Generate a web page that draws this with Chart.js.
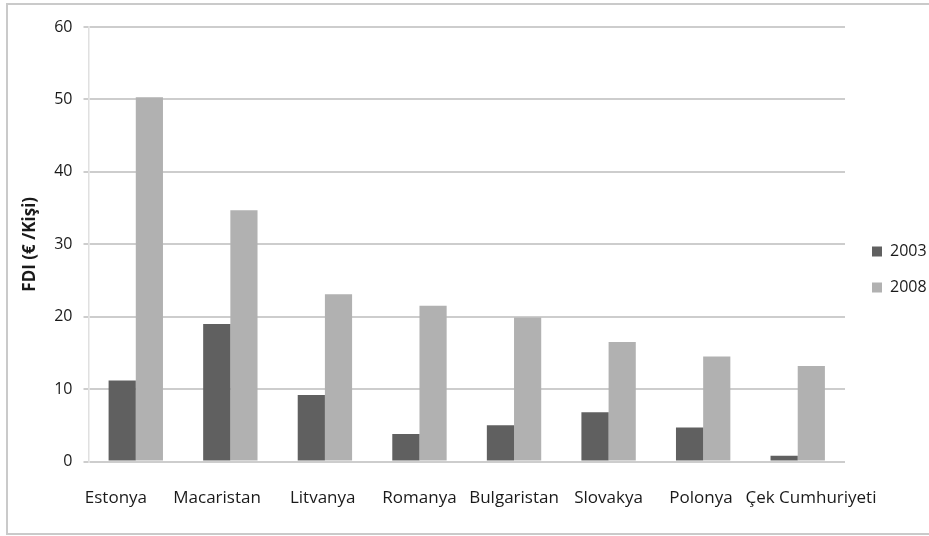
<!DOCTYPE html>
<html>
<head>
<meta charset="utf-8">
<script src="https://cdn.jsdelivr.net/npm/chart.js@4.4.1/dist/chart.umd.min.js"></script>
<style>
  html, body { margin: 0; padding: 0; background: #ffffff; overflow: hidden; }
  #frame { position: absolute; left: 6px; top: 3px; width: 940px; height: 532px; border: 2px solid #cacaca; box-sizing: border-box; }
  #c { position: absolute; left: 0; top: 0; }
</style>
</head>
<body>
<div id="frame"></div>
<canvas id="c" width="929" height="536"></canvas>
<script>
const categories = ["Estonya", "Macaristan", "Litvanya", "Romanya", "Bulgaristan", "Slovakya", "Polonya", "Çek Cumhuriyeti"];
const seriesNames = ["2003", "2008"];
const values2003 = [11.2, 19.0, 9.2, 3.8, 5.0, 6.8, 4.7, 0.8];
const values2008 = [50.3, 34.7, 23.1, 21.5, 19.9, 16.5, 14.5, 13.2];
const yTicks = [0, 10, 20, 30, 40, 50, 60];
const yTitle = "FDI (€ /Kişi)";

const FONT = "'Open Sans', 'DejaVu Sans', sans-serif";
const X_FONT_SIZE = 17;
// horizontal nudge (px) of each category label, as in the reference layout
const labelNudge = [-19, -13, -2, 1, 0, -1, -3, 14];

const measureCtx = document.createElement('canvas').getContext('2d');
measureCtx.font = X_FONT_SIZE + "px " + FONT;
const spaceW = measureCtx.measureText(' ').width;

function nudged(text, px) {
  const n = Math.round(Math.abs(px) * 2 / spaceW);
  const pad = ' '.repeat(n);
  return px < 0 ? text + pad : pad + text;
}

const legendShift = {
  id: 'legendShift',
  beforeLayout(chart) {
    const l = chart.legend;
    if (l && !l._wrapped) {
      const f = l.fit.bind(l);
      l.fit = function () { f(); this.width = 82; };
      l._wrapped = true;
    }
  },
  afterLayout(chart) {
    const l = chart.legend;
    if (l) { l.left += 7; }
  }
};

new Chart(document.getElementById('c'), {
  type: 'bar',
  data: {
    labels: categories,
    datasets: [
      { label: seriesNames[0], data: values2003, backgroundColor: '#606060', borderWidth: 0 },
      { label: seriesNames[1], data: values2008, backgroundColor: '#b1b1b1', borderWidth: 0 }
    ]
  },
  options: {
    responsive: false,
    devicePixelRatio: 1,
    animation: false,
    categoryPercentage: 0.575,
    barPercentage: 1.0,
    layout: { padding: { left: 10, top: 27, right: 2, bottom: 24 } },
    plugins: {
      legend: {
        position: 'right',
        align: 'center',
        labels: {
          boxWidth: 10, boxHeight: 10, padding: 20,
          color: '#1a1a1a',
          font: { family: FONT, size: 16 }
        }
      },
      tooltip: { enabled: false }
    },
    scales: {
      x: {
        grid: { display: false, drawTicks: false },
        border: { display: false },
        ticks: {
          color: '#1a1a1a', padding: 26, font: { family: FONT, size: X_FONT_SIZE }, maxRotation: 0, autoSkip: false,
          callback(value, index) { return nudged(this.getLabelForValue(value), labelNudge[index] || 0); }
        },
        afterFit(s) { s.height = 50.5; }
      },
      y: {
        min: 0, max: 60,
        afterBuildTicks(s) { s.ticks = yTicks.map(v => ({ value: v })); },
        grid: { color: '#cdcdcd', lineWidth: 2, tickLength: 5 },
        border: { display: true, color: '#e0e0e0', width: 1.5 },
        ticks: { color: '#1a1a1a', padding: 11, font: { family: FONT, size: 16 } },
        title: { display: true, text: yTitle, color: '#1a1a1a', padding: { top: 10, bottom: 0 }, font: { family: FONT, size: 17, weight: 'bold' } },
        afterFit(s) { s.width = 78.5; }
      }
    }
  },
  plugins: [legendShift]
});
</script>
</body>
</html>
